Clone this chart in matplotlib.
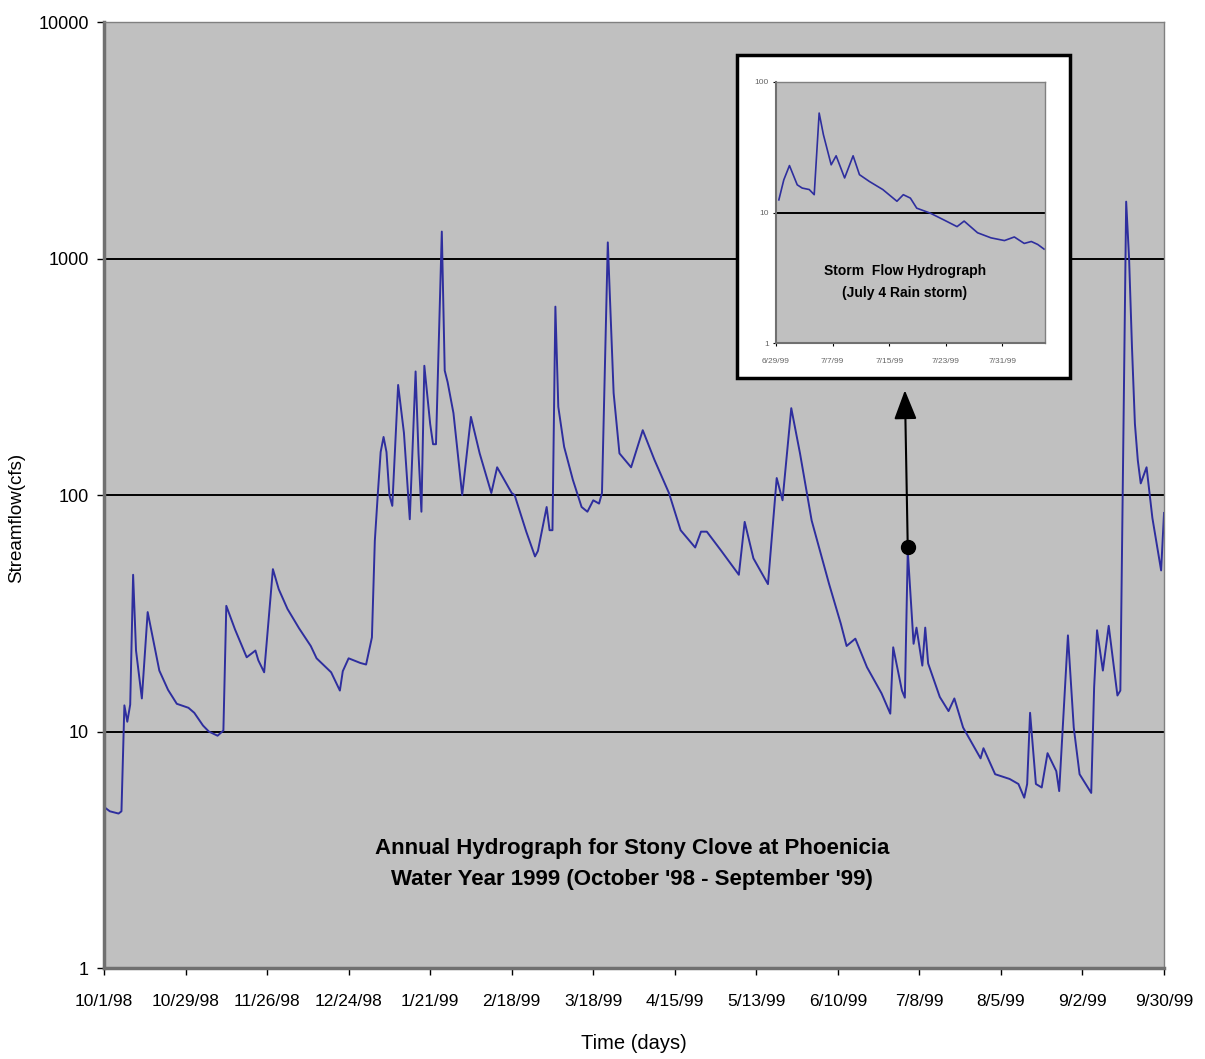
import matplotlib
matplotlib.use('Agg')
import matplotlib.pyplot as plt
from matplotlib.patches import Rectangle

# Daily streamflow, days counted from 10/1/98
days = [0, 2, 5, 6, 7, 8, 9, 10, 11, 13, 15, 17, 19, 22, 25, 29, 31, 34, 36, 39,
        41, 42, 45, 49, 52, 53, 55, 58, 60, 63, 67, 71, 73, 78, 81, 82, 84, 88, 90, 92,
        93, 94, 95, 96, 97, 98, 99, 101, 103, 105, 107, 108, 109, 110, 112, 113, 114, 116, 117, 118,
        120, 123, 126, 129, 133, 135, 140, 141, 145, 148, 149, 152, 153, 154, 155, 156, 158, 161, 164, 166,
        168, 170, 171, 173, 175, 177, 181, 185, 189, 194, 198, 203, 205, 207, 212, 218, 220, 223, 228, 231,
        233, 236, 239, 243, 249, 253, 255, 258, 262, 267, 270, 271, 274, 275, 276, 278, 279, 281, 282, 283,
        287, 290, 292, 295, 301, 302, 306, 311, 314, 316, 317, 318, 320, 322, 324, 327, 328, 331, 333, 335,
        339, 340, 341, 343, 345, 348, 349, 351, 352, 353, 354, 355, 356, 358, 360, 363, 364]
flow = [4.8, 4.6, 4.5, 4.6, 12.9, 11, 13, 46, 22, 13.8, 32, 24, 18.1, 15, 13.1, 12.6, 12, 10.6, 10, 9.6,
        10.1, 34, 27, 20.6, 22, 20, 17.8, 48.6, 40, 33, 27.3, 23, 20.4, 17.8, 14.9, 18, 20.4, 19.5, 19.2, 25,
        64, 100, 152, 176, 152, 100, 90, 292, 183, 79, 333, 150, 85, 352, 200, 164, 164, 1300, 336, 300,
        222, 100, 214, 150, 102, 131, 102, 100, 70, 55, 58, 89, 71, 71, 626, 236, 160, 116, 89, 85,
        95, 92, 102, 1170, 270, 150, 131, 188, 141, 102, 71, 60, 70, 70, 58, 46, 77, 54, 42, 118,
        95, 233, 150, 78, 42, 28.6, 23, 24.7, 18.7, 14.5, 11.9, 22.7, 14.9, 13.9, 58, 23.5, 27.5, 19, 27.5, 19.4,
        14, 12.2, 13.8, 10.4, 7.7, 8.5, 6.6, 6.3, 6.0, 5.25, 6, 12, 6, 5.8, 8.1, 6.8, 5.6, 25.5, 10.4, 6.6,
        5.5, 15.4, 26.8, 18.1, 28, 14.2, 14.9, 1740, 1000, 420, 200, 140, 112, 131, 80, 48, 84]

tick_days = [0, 28, 56, 84, 112, 140, 168, 196, 224, 252, 280, 308, 336, 364]
tick_labels = ['10/1/98', '10/29/98', '11/26/98', '12/24/98', '1/21/99', '2/18/99', '3/18/99',
               '4/15/99', '5/13/99', '6/10/99', '7/8/99', '8/5/99', '9/2/99', '9/30/99']

# July 4 storm (main chart marker)
storm_day = 276
storm_peak = 60
arrow_top = 285

# Inset: storm flow, days from 6/29/99
inset_days = [0.4, 1.1, 1.9, 3.0, 3.7, 4.7, 5.4, 6.1, 6.7, 7.8, 8.5, 9.7, 10.9, 11.8, 13.2, 15.1,
              17.1, 18.0, 19.0, 19.9, 21.8, 23.7, 25.6, 26.6, 28.5, 30.4, 32.3, 33.7, 35.1, 36.1, 37.0, 37.9]
inset_flow = [12.5, 17.8, 22.9, 16.3, 15.4, 15, 13.7, 57.8, 39.5, 23.2, 27.2, 18.4, 27.2, 19.5, 17.3, 15,
              12.2, 13.7, 12.9, 10.8, 9.9, 8.8, 7.8, 8.6, 7.0, 6.4, 6.1, 6.5, 5.8, 6.0, 5.7, 5.25]
inset_ticks = [0, 8, 16, 24, 32]
inset_labels = ['6/29/99', '7/7/99', '7/15/99', '7/23/99', '7/31/99']

FONT = ['Liberation Sans Narrow', 'Liberation Sans', 'DejaVu Sans']
LINE = '#2e2e9e'
BG = '#c0c0c0'


def style_log_axis(ax, lw_main):
    ax.set_facecolor(BG)
    ax.set_yscale('log')
    ax.minorticks_off()
    for side in ['top', 'right']:
        ax.spines[side].set_color('#808080')
        ax.spines[side].set_linewidth(1)
    for side in ['left', 'bottom']:
        ax.spines[side].set_color('#707070')
        ax.spines[side].set_linewidth(lw_main)
    ax.yaxis.grid(True, color='black', linewidth=1.4)
    ax.set_axisbelow(True)


def main():
    plt.rcParams['font.family'] = FONT
    fig = plt.figure(figsize=(12.05, 10.59), dpi=100)
    fig.patch.set_facecolor('white')

# Main hydrograph
    ax = fig.add_axes([0.0863, 0.0859, 0.8797, 0.8933])
    style_log_axis(ax, 2.5)
    ax.plot(days, flow, color=LINE, linewidth=1.4)
    ax.set_xlim(0, 364)
    ax.set_ylim(1, 10000)
    ax.set_yticks([1, 10, 100, 1000, 10000])
    ax.set_yticklabels(['1', '10', '100', '1000', '10000'])
    ax.set_xticks(tick_days)
    ax.set_xticklabels(tick_labels)
    ax.tick_params(axis='x', direction='out', length=5, width=1, pad=14, labelsize=12.5)
    ax.tick_params(axis='y', direction='out', length=5, width=1, pad=6, labelsize=13)
    ax.set_xlabel('Time (days)', fontsize=14.5, labelpad=18)
    ax.set_ylabel('Streamflow(cfs)', fontsize=13.5)
    ax.yaxis.set_label_coords(-0.0745, 0.476)

    ax.text(0.498, 0.110, "Annual Hydrograph for Stony Clove at Phoenicia\n"
            "Water Year 1999 (October '98 - September '99)",
            transform=ax.transAxes, ha='center', va='center', fontsize=16,
            fontweight='bold', linespacing=1.65)

# Storm marker with arrow to the inset
    ax.plot([storm_day], [storm_peak], 'o', color='black', markersize=10, zorder=5)
    ax.annotate('', xy=(storm_day - 1, arrow_top), xytext=(storm_day, storm_peak),
                arrowprops=dict(arrowstyle='-|>,head_length=0.9,head_width=0.35',
                                color='black', linewidth=1.5, mutation_scale=20))

# White frame behind the inset
    box = Rectangle((0.6116, 0.643), 0.2764, 0.305, transform=fig.transFigure,
                    facecolor='white', edgecolor='black', linewidth=2.5, zorder=3)
    fig.add_artist(box)

# Inset storm hydrograph
    ins = fig.add_axes([0.644, 0.676, 0.223, 0.2466], zorder=4)
    style_log_axis(ins, 1.5)
    ins.plot(inset_days, inset_flow, color=LINE, linewidth=1.2)
    ins.set_xlim(0, 38)
    ins.set_ylim(1, 100)
    ins.set_yticks([1, 10, 100])
    ins.set_yticklabels(['1', '10', '100'])
    ins.set_xticks(inset_ticks)
    ins.set_xticklabels(inset_labels)
    ins.tick_params(axis='both', direction='out', length=2, width=0.8, labelsize=6,
                    labelcolor='#666666', pad=3)
    ins.tick_params(axis='x', pad=9)
    ins.text(0.48, 0.235, 'Storm  Flow Hydrograph\n(July 4 Rain storm)', transform=ins.transAxes,
             ha='center', va='center', fontsize=10, fontweight='bold', linespacing=1.75)

    fig.savefig('out.png', dpi=100, facecolor='white')


if __name__ == '__main__':
    main()
